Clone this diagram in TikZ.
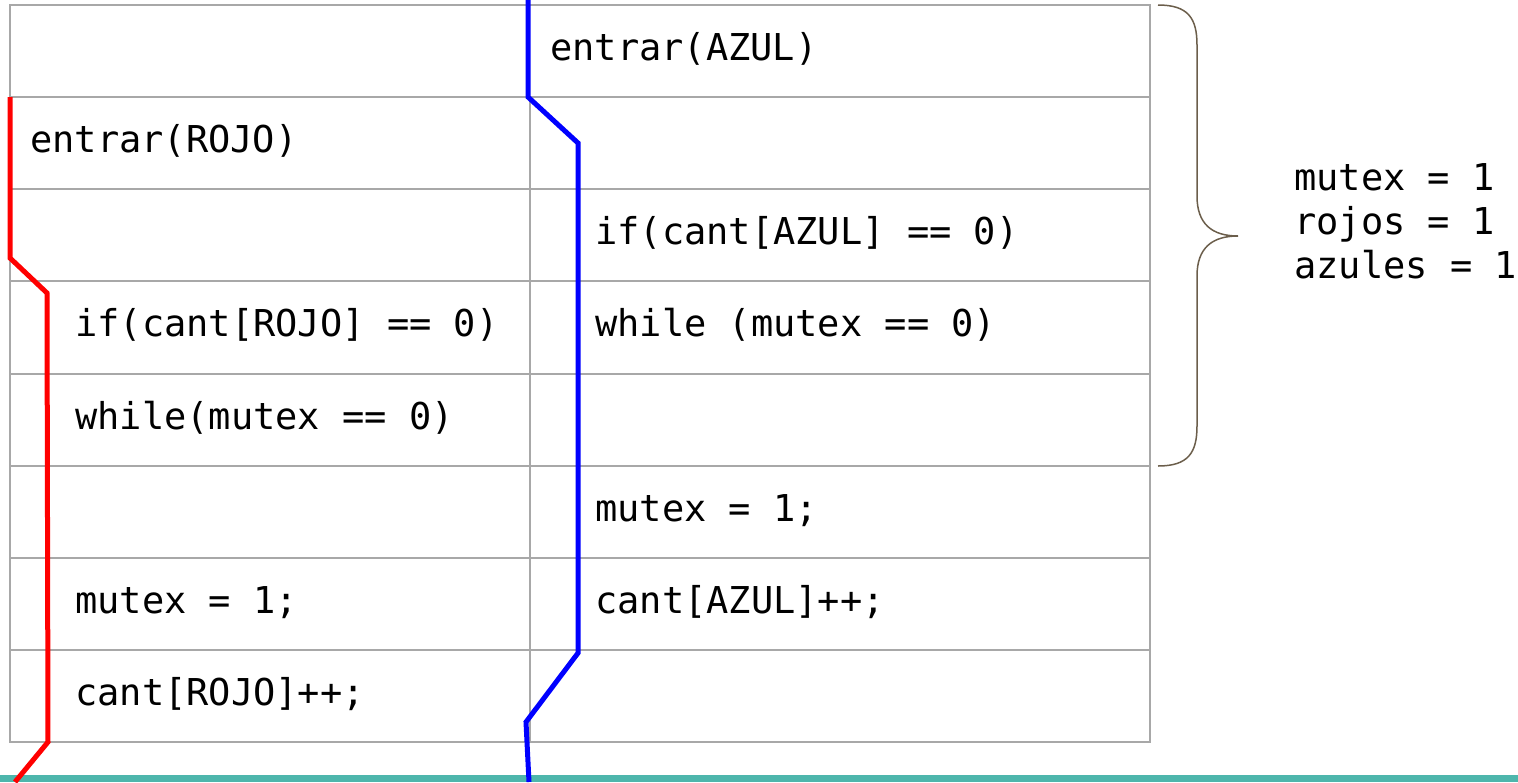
\documentclass[tikz,border=0pt]{standalone}
\usepackage{fontspec}
\setmonofont{DejaVu Sans Mono}
\definecolor{gridgray}{HTML}{A8A8A8}
\definecolor{bracecol}{HTML}{6B5E4B}
\definecolor{bandteal}{HTML}{4DB6AC}
\definecolor{rojo}{HTML}{FF0000}
\definecolor{azul}{HTML}{0000FF}
\begin{document}
\begin{tikzpicture}[x=1pt,y=-1pt,
  code/.style={anchor=base west, inner sep=0pt, font=\ttfamily\fontsize{37}{44}\selectfont},
  gridline/.style={draw=gridgray, line width=2pt},
  track/.style={line width=5pt, line join=miter}]
\useasboundingbox (0,0) rectangle (1518,782);
% bottom band
\fill[bandteal] (0,775) rectangle (1518,782);
% table
\draw[gridline] (10,5) rectangle (1150,742);
\foreach \yy in {97,189,281,374,466,558,650} \draw[gridline] (10,\yy) -- (1150,\yy);
\draw[gridline] (530,97) -- (530,742);
% texts
\node[code] (a0) at (550,60) {entrar(AZUL)};
\node[code] (r1) at (30,152) {entrar(ROJO)};
\node[code] (a2) at (595,244) {if(cant[AZUL] == 0)};
\node[code] (r3) at (75,336) {if(cant[ROJO] == 0)};
\node[code] (a3) at (595,336) {while (mutex == 0)};
\node[code] (r4) at (75,429) {while(mutex == 0)};
\node[code] (a5) at (595,521) {mutex = 1;};
\node[code] (r6) at (75,613) {mutex = 1;};
\node[code] (a6) at (595,613) {cant[AZUL]++;};
\node[code] (r7) at (75,705) {cant[ROJO]++;};
% side values
\node[code] (v1) at (1294,190) {mutex = 1};
\node[code] (v2) at (1294,234) {rojos = 1};
\node[code] (v3) at (1294,278) {azules = 1};
% brace
\draw[bracecol, line width=1.5pt] (1158,5) .. controls (1188,5) and (1197,18) .. (1197,45)
  -- (1197,196) .. controls (1197,224) and (1212,236) .. (1238,236)
  .. controls (1212,236) and (1197,248) .. (1197,276)
  -- (1197,426) .. controls (1197,453) and (1188,466) .. (1158,466);
% red track
\coordinate (rs) at (10,97);
\coordinate (r1k) at (10,258);
\coordinate (r2k) at (47,293);
\coordinate (r3k) at (48,742);
\coordinate (re) at (15,782);
\draw[track, rojo] (rs) -- (r1k) -- (r2k) -- (r3k) -- (re);
% blue track
\coordinate (bs) at (528,0);
\coordinate (b1k) at (528,97);
\coordinate (b2k) at (578,143);
\coordinate (b3k) at (578,653);
\coordinate (b4k) at (526,722);
\coordinate (be) at (529,782);
\draw[track, azul] (bs) -- (b1k) -- (b2k) -- (b3k) -- (b4k) -- (be);
\end{tikzpicture}
\end{document}
